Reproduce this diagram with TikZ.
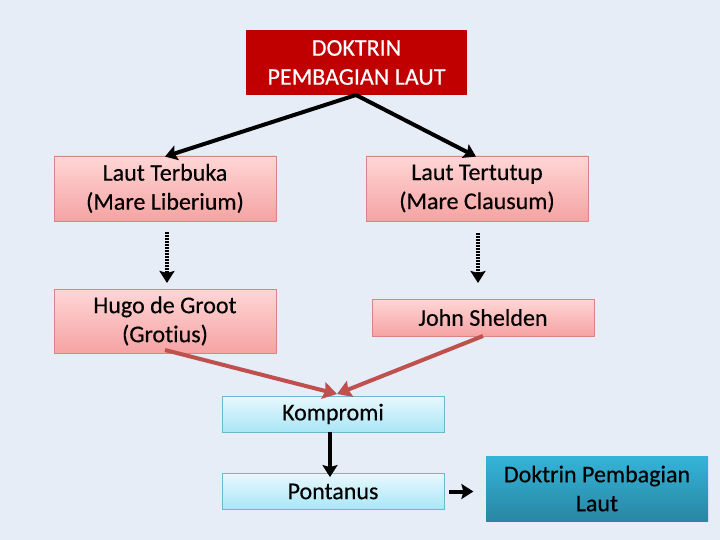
\documentclass[tikz,border=0pt]{standalone}
\usepackage{fontspec}
\setmainfont[Ligatures=NoCommon, FakeBold=0.4]{Carlito}
\usetikzlibrary{arrows.meta}
\definecolor{bg}{HTML}{E6EDF7}
\definecolor{topred}{HTML}{C00000}
\definecolor{pinktop}{HTML}{FFD6D6}
\definecolor{pinkbot}{HTML}{F5A3A3}
\definecolor{pinkborder}{HTML}{D98584}
\definecolor{cyantop}{HTML}{E8F8FD}
\definecolor{cyanbot}{HTML}{A9E6F7}
\definecolor{cyanborder}{HTML}{6BB8CF}
\definecolor{tealtop}{HTML}{34B4D9}
\definecolor{tealbot}{HTML}{2A86A3}
\definecolor{redarrow}{HTML}{C0504D}
\tikzset{
  txt/.style={font=\fontsize{24}{29}\selectfont, align=center},
  redbox/.style={txt, fill=topred, text=white, draw=none, minimum width=221pt, minimum height=65pt, inner sep=0pt},
  pinkbox/.style={txt, top color=pinktop, bottom color=pinkbot, draw=pinkborder, line width=0.8pt, minimum width=222pt, inner sep=0pt},
  cyanbox/.style={txt, top color=cyantop, bottom color=cyanbot, draw=cyanborder, line width=0.8pt, minimum width=222pt, minimum height=36pt, inner sep=0pt},
  tealbox/.style={txt, top color=tealtop, bottom color=tealbot, draw=none, minimum width=222pt, minimum height=65pt, inner sep=0pt},
  blk/.style={line width=4pt, black, -{Stealth[length=12pt,width=15pt,inset=2pt]}},
  dotarr/.style={line width=4pt, black, dash pattern=on 1.6pt off 1.4pt, -{Stealth[length=12pt,width=15pt,inset=2pt]}},
  redarr/.style={line width=4pt, redarrow, -{Stealth[length=14pt,width=17pt,inset=2pt]}},
}
\begin{document}
\begin{tikzpicture}[x=1pt,y=-1pt]
\fill[bg] (0,0) rectangle (720,540);
\useasboundingbox (0,0) rectangle (720,540);
\node[redbox] (top) at (356.5,62.5) {DOKTRIN\\PEMBAGIAN LAUT};
\node[pinkbox, minimum height=65pt] (lt) at (165,188.5) {Laut Terbuka\\(Mare Liberium)};
\node[pinkbox, minimum height=65pt] (ltt) at (477,188.5) {Laut Tertutup\\(Mare Clausum)};
\node[pinkbox, minimum height=64pt] (hugo) at (165,321) {Hugo de Groot\\(Grotius)};
\node[pinkbox, minimum height=37pt] (john) at (483,317.5) {John Shelden};
\node[cyanbox] (komp) at (333,414) {Kompromi};
\node[cyanbox] (pont) at (333,491.5) {Pontanus};
\node[tealbox] (dok) at (597,488.5) {Doktrin Pembagian\\Laut};
\coordinate (tb) at (356,95);
\draw[blk] (tb) -- ([xshift=0pt,yshift=-1pt]lt.north);
\draw[blk] (tb) -- ([xshift=-1pt,yshift=-1pt]ltt.north);
\coordinate (d1s) at (167,232);
\coordinate (d1e) at (167,283);
\coordinate (d2s) at (478,233);
\coordinate (d2e) at (478,283);
\draw[dotarr] (d1s) -- (d1e);
\draw[dotarr] (d2s) -- (d2e);
\coordinate (r1s) at (165,350);
\coordinate (r1e) at (337,394);
\coordinate (r2s) at (483,336);
\coordinate (r2e) at (337,394);
\draw[redarr] (r1s) -- (r1e);
\draw[redarr] (r2s) -- (r2e);
\draw[blk] ([xshift=-3pt]komp.south) -- ([xshift=-3pt,yshift=-4pt]pont.north);
\draw[blk] ([xshift=5pt]pont.east) -- ([xshift=29pt]pont.east);
\end{tikzpicture}
\end{document}
